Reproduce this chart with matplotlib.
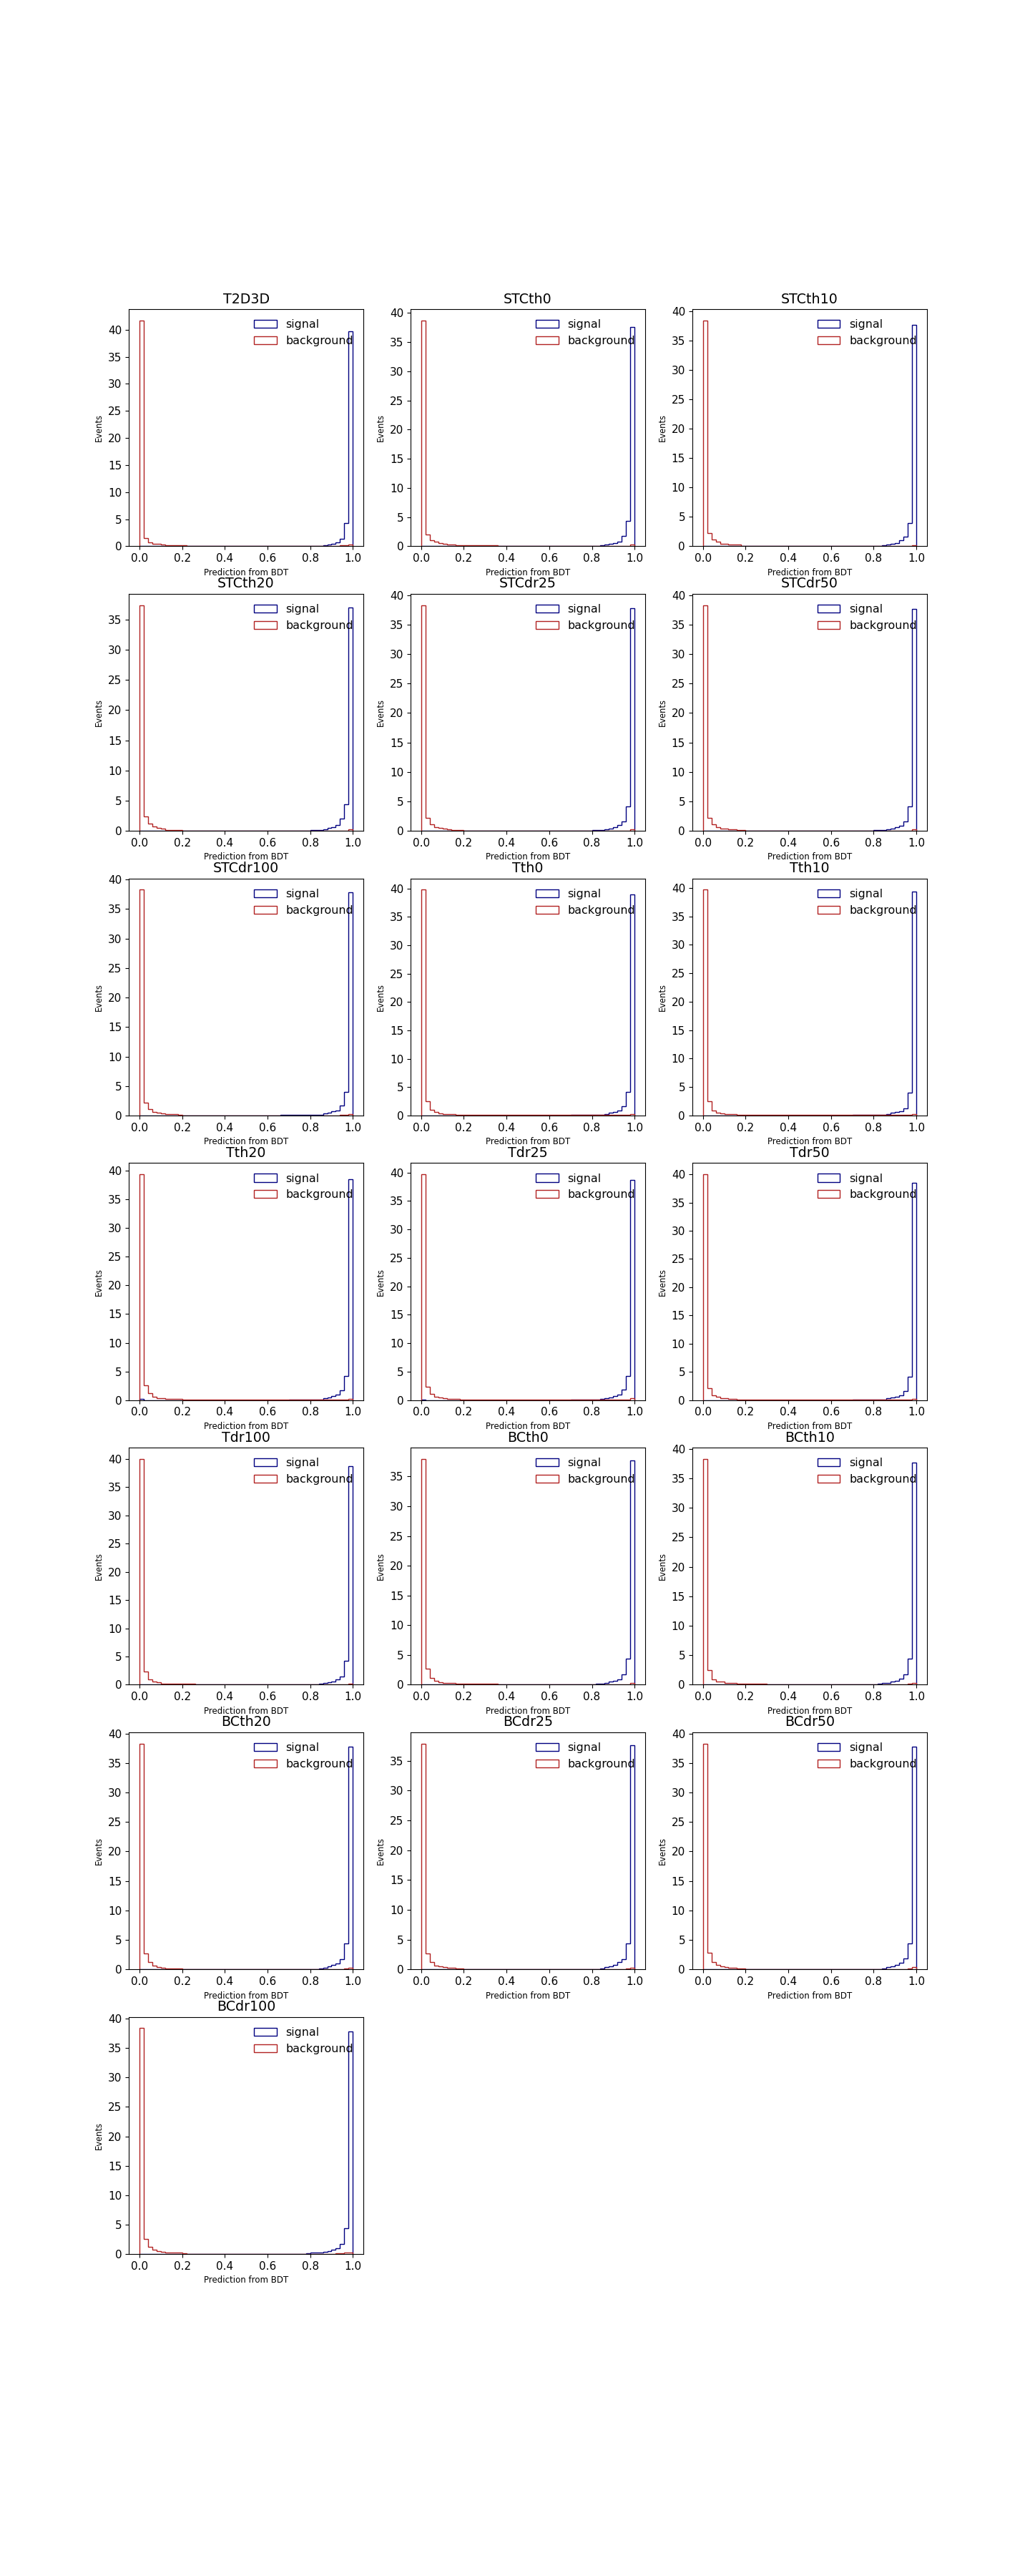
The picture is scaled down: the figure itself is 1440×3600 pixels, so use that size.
import numpy as np
import matplotlib
matplotlib.use("Agg")
import matplotlib.pyplot as plt

# BDT output histograms (50 bins in [0, 1], normalised heights)
edges = np.linspace(0.0, 1.0, 51)

names = ["T2D3D", "STCth0", "STCth10", "STCth20", "STCdr25", "STCdr50", "STCdr100",
         "Tth0", "Tth10", "Tth20", "Tdr25", "Tdr50", "Tdr100",
         "BCth0", "BCth10", "BCth20", "BCdr25", "BCdr50", "BCdr100"]

bg_T2D3D = [41.7, 1.5, 0.66, 0.4, 0.4, 0.3, 0.13, 0.13, 0.13, 0.13, 0.13] + [0.0] * 36 + [0.13, 0.13, 0.26]
sig_T2D3D = [0.0] * 41 + [0.09, 0.09, 0.13, 0.26, 0.4, 0.66, 1.37, 4.24, 39.7]

bg_STCth0 = [38.7, 2.05, 1.0, 0.78, 0.5, 0.37, 0.25, 0.25] + [0.12] * 10 + [0.0] * 27 + [0.08] * 4 + [0.25]
sig_STCth0 = [0.0] * 37 + [0.08] * 5 + [0.2, 0.29, 0.45, 0.6, 0.82, 1.72, 4.3, 37.6]

bg_STCth10 = [38.5, 2.3, 1.1, 0.73, 0.37, 0.37, 0.25, 0.25, 0.25] + [0.1] * 8 + [0.0, 0.08, 0.0, 0.08] + [0.0] * 24 + [0.08] * 4 + [0.2]
sig_STCth10 = [0.0] * 37 + [0.08] * 5 + [0.16, 0.29, 0.45, 0.6, 0.98, 1.7, 4.0, 37.7]

bg_STCth20 = [37.4, 2.4, 1.25, 0.7, 0.45, 0.35, 0.2, 0.2, 0.2, 0.2] + [0.07] * 20 + [0.0] * 16 + [0.07] * 3 + [0.25]
sig_STCth20 = [0.0] * 33 + [0.07] * 7 + [0.15] * 3 + [0.3, 0.5, 0.65, 1.0, 2.0, 4.4, 37.0]

bg_STCdr25 = [38.3, 2.2, 1.1, 0.65, 0.5, 0.35, 0.25, 0.2, 0.2, 0.2] + [0.07] * 15 + [0.0] * 20 + [0.07] * 4 + [0.3]
sig_STCdr25 = [0.0] * 30 + [0.06] * 10 + [0.15] * 3 + [0.25, 0.45, 0.65, 1.0, 1.6, 4.15, 37.7]

bg_STCdr50 = [38.3, 2.2, 1.1, 0.6, 0.45, 0.35, 0.3, 0.25, 0.2, 0.2] + [0.06] * 20 + [0.0] * 15 + [0.07] * 4 + [0.3]
sig_STCdr50 = [0.0] * 30 + [0.06] * 10 + [0.15] * 3 + [0.3, 0.45, 0.6, 0.9, 1.6, 4.2, 37.6]

bg_STCdr100 = [38.3, 2.2, 1.1, 0.65, 0.45, 0.35, 0.25, 0.2, 0.2, 0.15] + [0.05] * 37 + [0.1, 0.1, 0.3]
sig_STCdr100 = [0.0] * 33 + [0.06] * 7 + [0.15] * 3 + [0.35, 0.5, 0.7, 0.9, 1.65, 4.0, 37.85]

bg_Tth0 = [39.8, 2.5, 1.0, 0.6, 0.4, 0.3, 0.2, 0.2, 0.15, 0.15] + [0.06] * 35 + [0.1] * 4 + [0.3]
sig_Tth0 = [0.0] * 35 + [0.07] * 7 + [0.15, 0.3, 0.45, 0.6, 0.9, 1.6, 4.1, 38.9]

bg_Tth10 = [39.7, 2.5, 0.9, 0.55, 0.4, 0.3, 0.2, 0.2, 0.15, 0.15] + [0.06] * 35 + [0.08] * 4 + [0.25]
sig_Tth10 = [0.0] * 35 + [0.07] * 7 + [0.15, 0.3, 0.45, 0.6, 0.8, 1.25, 4.0, 39.3]

bg_Tth20 = [39.35, 2.55, 1.2, 0.6, 0.4, 0.3, 0.25, 0.25, 0.2, 0.2] + [0.06] * 35 + [0.08] * 4 + [0.25]
sig_Tth20 = [0.2] + [0.0] * 34 + [0.07] * 7 + [0.15, 0.3, 0.5, 0.7, 1.0, 1.7, 4.2, 38.5]

bg_Tdr25 = [39.7, 2.3, 1.15, 0.6, 0.45, 0.3, 0.25, 0.2, 0.2, 0.15] + [0.06] * 35 + [0.1] * 4 + [0.3]
sig_Tdr25 = [0.15] + [0.0] * 34 + [0.07] * 7 + [0.2, 0.3, 0.5, 0.7, 1.0, 1.9, 4.2, 38.75]

bg_Tdr50 = [40.0, 2.1, 0.9, 0.55, 0.35, 0.3, 0.25, 0.2, 0.15, 0.15] + [0.05] * 35 + [0.08] * 4 + [0.25]
sig_Tdr50 = [0.0] * 35 + [0.07] * 7 + [0.15, 0.3, 0.5, 0.65, 0.9, 1.6, 4.2, 38.5]

bg_Tdr100 = [40.0, 2.3, 0.9, 0.6, 0.4, 0.25, 0.2, 0.15, 0.15, 0.15, 0.15, 0.15, 0.15] + [0.0] * 34 + [0.1, 0.1, 0.25]
sig_Tdr100 = [0.0] * 39 + [0.12] * 3 + [0.2, 0.3, 0.4, 0.55, 0.9, 1.5, 4.2, 38.7]

bg_BCth0 = [37.95, 2.7, 1.1, 0.6, 0.45, 0.35, 0.3, 0.3, 0.2, 0.2] + [0.12] * 8 + [0.0] * 29 + [0.1, 0.1, 0.25]
sig_BCth0 = [0.0] * 36 + [0.08] * 5 + [0.12, 0.2, 0.35, 0.5, 0.6, 0.9, 1.7, 4.35, 37.7]

bg_BCth10 = [38.3, 2.5, 0.95, 0.6, 0.5, 0.35, 0.3, 0.25, 0.2, 0.2] + [0.12] * 5 + [0.0, 0.08, 0.08] + [0.0] * 29 + [0.1, 0.15, 0.35]
sig_BCth10 = [0.0] * 37 + [0.08] * 4 + [0.15, 0.25, 0.35, 0.55, 0.7, 1.0, 1.75, 4.4, 37.7]

bg_BCth20 = [38.3, 2.7, 1.25, 0.6, 0.4, 0.3, 0.2, 0.2, 0.15, 0.15] + [0.05] * 38 + [0.1, 0.3]
sig_BCth20 = [0.0] * 35 + [0.08] * 7 + [0.2, 0.3, 0.5, 0.7, 1.0, 1.75, 4.4, 37.8]

bg_BCdr25 = [37.9, 2.7, 1.2, 0.65, 0.45, 0.35, 0.3, 0.25, 0.2, 0.15] + [0.05] * 38 + [0.1, 0.25]
sig_BCdr25 = [0.0] * 35 + [0.08] * 7 + [0.2, 0.35, 0.55, 0.8, 1.2, 1.75, 4.35, 37.6]

bg_BCdr50 = [38.3, 2.8, 1.3, 0.7, 0.5, 0.4, 0.3, 0.25, 0.2, 0.2] + [0.05] * 35 + [0.08] * 3 + [0.15, 0.4]
sig_BCdr50 = [0.0] * 35 + [0.08] * 7 + [0.2, 0.35, 0.55, 0.8, 1.1, 1.8, 4.4, 37.8]

bg_BCdr100 = [38.4, 2.5, 1.2, 0.73, 0.45, 0.32, 0.3, 0.3, 0.2, 0.2, 0.15] + [0.05] * 35 + [0.08, 0.08, 0.2, 0.3]
sig_BCdr100 = [0.0] * 39 + [0.15, 0.2, 0.2, 0.3, 0.35, 0.5, 0.7, 0.93, 1.66, 4.4, 37.8]

signal = [sig_T2D3D, sig_STCth0, sig_STCth10, sig_STCth20, sig_STCdr25, sig_STCdr50, sig_STCdr100,
          sig_Tth0, sig_Tth10, sig_Tth20, sig_Tdr25, sig_Tdr50, sig_Tdr100,
          sig_BCth0, sig_BCth10, sig_BCth20, sig_BCdr25, sig_BCdr50, sig_BCdr100]
background = [bg_T2D3D, bg_STCth0, bg_STCth10, bg_STCth20, bg_STCdr25, bg_STCdr50, bg_STCdr100,
              bg_Tth0, bg_Tth10, bg_Tth20, bg_Tdr25, bg_Tdr50, bg_Tdr100,
              bg_BCth0, bg_BCth10, bg_BCth20, bg_BCdr25, bg_BCdr50, bg_BCdr100]

centers = 0.5 * (edges[:-1] + edges[1:])

fig = plt.figure(figsize=(14.4, 36), dpi=100)
fig.subplots_adjust(left=0.125, right=0.9, top=0.88, bottom=0.125, wspace=0.2, hspace=0.2)

for i, name in enumerate(names):
    ax = fig.add_subplot(7, 3, i + 1)
    ax.hist(centers, bins=edges, weights=signal[i], histtype='step',
            color='navy', linewidth=1.0, label='signal')
    ax.hist(centers, bins=edges, weights=background[i], histtype='step',
            color='firebrick', linewidth=1.0, label='background')
    ax.set_title(name, fontsize=13.7)
    ax.set_xlabel('Prediction from BDT', fontsize=8.5)
    ax.set_ylabel('Events', fontsize=8.3)
    ax.tick_params(labelsize=11)
    ax.legend(loc='upper right', frameon=False, fontsize=11.4)

fig.savefig('out.png', dpi=100)
